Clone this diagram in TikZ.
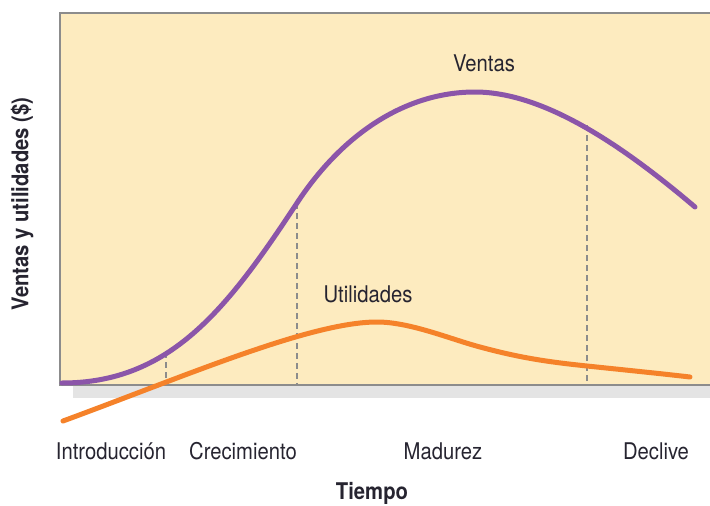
\documentclass[tikz,border=0pt]{standalone}
\usepackage{fontspec}
\setmainfont{TeX Gyre Heros}[FakeStretch=0.88]
\begin{document}
\begin{tikzpicture}[x=1pt,y=-1pt,
  lbl/.style={font=\fontsize{23}{26}\selectfont, text=txt, inner sep=0pt},
  guide/.style={draw=axisgray, line width=1.3pt, dash pattern=on 6pt off 4pt},
  curve/.style={line width=5pt, line cap=round}]
\definecolor{bg}{HTML}{FDEBBF}
\definecolor{vpurple}{HTML}{8B55A9}
\definecolor{uorange}{HTML}{F5822A}
\definecolor{axisgray}{HTML}{8C8C8C}
\definecolor{shadow}{HTML}{E4E4E4}
\definecolor{txt}{HTML}{262430}
\useasboundingbox (0,0) rectangle (710,506);
% shadow band
\fill[shadow] (73,385) rectangle (710,398);
% panel
\fill[bg] (60,13) rectangle (710,385);
\draw[axisgray, line width=2pt] (710,13) -- (60,13) -- (60,385) -- (710,385);
% guide lines
\coordinate (g1) at (166,352);
\coordinate (g2) at (297,203);
\coordinate (g3) at (587,125);
\draw[guide] (g1) -- (166,385);
\draw[guide] (g2) -- (297,385);
\draw[guide] (g3) -- (587,385);
% curves
\draw[curve, uorange] (63,421) .. controls (183,377) and (310,322) .. (377,322)
  .. controls (410,322) and (450,339) .. (480,347)
  .. controls (520,357.8) and (547,361.8) .. (587,366)
  .. controls (627,370.2) and (660,373.5) .. (690,377);
\draw[curve, vpurple] (62,383) .. controls (170,383) and (227,309.4) .. (297,203)
  .. controls (342,134.6) and (405,92) .. (475,92)
  .. controls (545,92) and (625,147.5) .. (695,207);
% labels
\node[lbl] (ventas) at (484,63) {Ventas};
\node[lbl] (util) at (368,294) {Utilidades};
\node[lbl] (intro) at (111,451) {Introducción};
\node[lbl] (crec) at (243,451) {Crecimiento};
\node[lbl] (madu) at (443,451) {Madurez};
\node[lbl] (decl) at (656,451) {Declive};
\node[lbl, font=\fontsize{23}{26}\selectfont\bfseries] (tiempo) at (372,493) {Tiempo};
\node[lbl, font=\fontsize{23}{26}\selectfont\bfseries, rotate=90] (yaxis) at (22,204) {Ventas y utilidades (\$)};
\end{tikzpicture}
\end{document}
